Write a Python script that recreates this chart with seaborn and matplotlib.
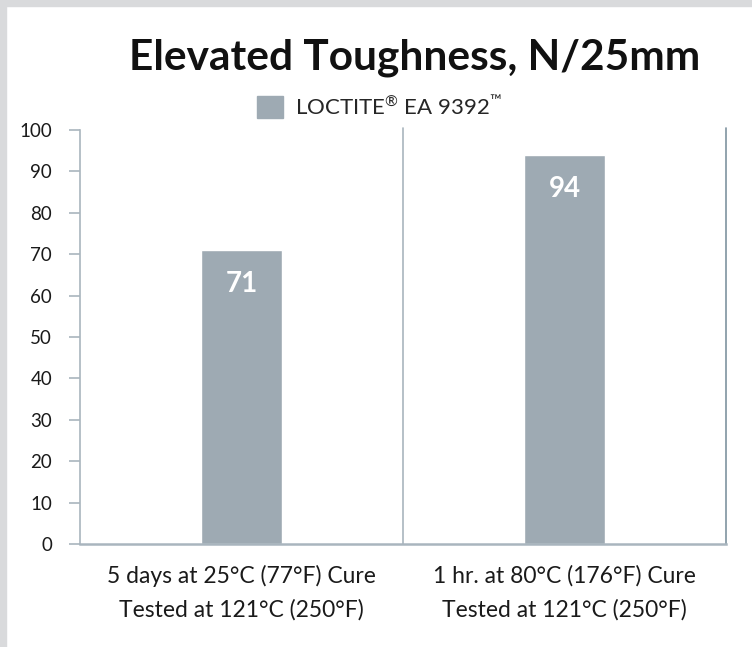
import pandas as pd
import seaborn as sns
from matplotlib import pyplot as plt
from matplotlib.patches import Rectangle

categories = ["5 days at 25°C (77°F) Cure\nTested at 121°C (250°F)",
              "1 hr. at 80°C (176°F) Cure\nTested at 121°C (250°F)"]
values = [71, 94]
series_name = "LOCTITE$^{®}$ EA 9392$^{™}$"
y_ticks = [0, 10, 20, 30, 40, 50, 60, 70, 80, 90, 100]

BAR = "#9eaab3"
LINE = "#a9b5be"
DARK = "#7f93a0"

sns.set_theme(style="white")
plt.rcParams["font.family"] = ["Lato", "DejaVu Sans"]
plt.rcParams["mathtext.fontset"] = "custom"
plt.rcParams["mathtext.rm"] = "Lato"
plt.rcParams["mathtext.it"] = "Lato"

df = pd.DataFrame({"condition": categories, "value": values})

fig = plt.figure(figsize=(7.52, 6.47), dpi=100)
# light gray frame along top and left edge
fig.patches.append(Rectangle((0, 1 - 6 / 647), 1, 6 / 647, transform=fig.transFigure,
                             color="#d9dadc", zorder=0))
fig.patches.append(Rectangle((0, 0), 6 / 752, 1, transform=fig.transFigure,
                             color="#d9dadc", zorder=0))

ax = fig.add_axes([80 / 752, 103 / 647, 646 / 752, 414 / 647])
sns.barplot(data=df, x="condition", y="value", color=BAR, width=0.25,
            saturation=1, ax=ax)

ax.set_xlim(-0.5, 1.5)
ax.set_ylim(0, 100)
ax.set_yticks(y_ticks)
ax.set_xlabel("")
ax.set_ylabel("")

for s in ["top", "right"]:
    ax.spines[s].set_visible(False)
ax.spines["left"].set_color(LINE)
ax.spines["bottom"].set_color(LINE)
ax.spines["left"].set_linewidth(1.2)
ax.spines["bottom"].set_linewidth(1.8)

# category dividers
for xv in [0.5, 1.5]:
    ax.axvline(xv, ymin=0, ymax=1.005, color=DARK if xv == 1.5 else LINE,
               lw=1.2, clip_on=False)
ax.set_xticks([-0.5, 0.5, 1.5], minor=True)
ax.tick_params(axis="x", which="minor", length=8, width=1.2, color=LINE, direction="out")
ax.tick_params(axis="x", which="major", length=0, pad=15, labelsize=16.5, labelcolor="#1a1a1a")
ax.tick_params(axis="y", length=8, width=1.2, color=LINE, pad=12, labelsize=13.5,
               labelcolor="#1a1a1a", left=True)
for t in ax.get_xticklabels():
    t.set_linespacing(1.7)

ax.bar_label(ax.containers[0], labels=[str(v) for v in values], padding=-34,
             color="white", fontsize=20, fontweight="bold")

ax.legend(handles=[Rectangle((0, 0), 1, 1, color=BAR)], labels=[series_name],
          loc="lower center", bbox_to_anchor=(0.464, 1.0), frameon=False,
          fontsize=16, handlelength=1.15, handleheight=1.15, handletextpad=0.55,
          borderaxespad=0.1)

fig.text(415 / 752, 1 - 58 / 647, "Elevated Toughness, N/25mm", ha="center", va="center",
         fontsize=30.5, fontweight="bold", color="#111111")

fig.savefig("out.png", dpi=100)
